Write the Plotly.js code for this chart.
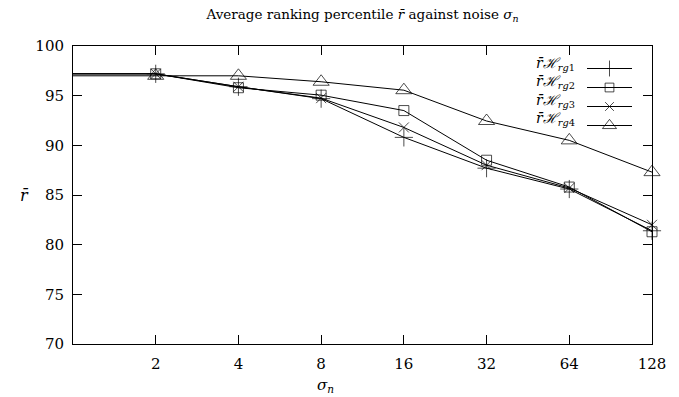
<!DOCTYPE html>
<html>
<head>
<meta charset="utf-8">
<script src="https://cdn.plot.ly/plotly-3.0.1.min.js"></script>
<style>html,body{margin:0;padding:0;background:#fff;}#chart{width:679px;height:397px;}</style>
</head>
<body>
<div id="chart"></div>
<script>
// Data
const sigma = [1, 2, 4, 8, 16, 32, 64, 128];
const tickVals = [2, 4, 8, 16, 32, 64, 128];
const tickText = ['2', '4', '8', '16', '32', '64', '128'];
const rg1 = [97.2, 97.2, 95.9, 94.7, 90.8, 87.7, 85.6, 81.4];
const rg2 = [97.2, 97.2, 95.8, 95.05, 93.5, 88.5, 85.8, 81.3];
const rg3 = [97.2, 97.2, 95.9, 94.75, 91.8, 88.0, 85.7, 82.0];
const rg4 = [97.0, 97.0, 97.0, 96.4, 95.55, 92.45, 90.5, 87.3];
const seriesSubs = ['1', '2', '3', '4'];
const yTicks = [70, 75, 80, 85, 90, 95, 100];

const font = '"DejaVu Serif", "Liberation Serif", serif';
const symbols = ['cross-thin-open', 'square-open', 'x-thin-open', 'triangle-up-open'];
const sizes = [13, 10, 10, 14];
const series = [rg1, rg2, rg3, rg4];

const traces = series.map((ys, i) => ({
  x: sigma, y: ys, type: 'scatter', mode: 'lines+markers',
  name: ' ',
  line: {color: '#000', width: 1},
  marker: {symbol: symbols[i], size: sigma.map(v => v === 1 ? 0 : sizes[i]), color: '#000', line: {color: '#000', width: 1}},
  cliponaxis: false
}));

const annotations = seriesSubs.map((s, i) => ({
  xref: 'paper', yref: 'paper', x: (577 - 73) / 579, y: 1 - (64 + 18.5 * i - 46) / 298,
  xanchor: 'right', yanchor: 'middle', showarrow: false,
  text: '<i>r̄ℋ</i><sub><i>rg</i>' + s + '</sub>',
  font: {family: font, size: 14, color: '#000'}
}));
annotations.push({xref: 'paper', yref: 'paper', x: -0.095, y: 0.5, showarrow: false,
  text: '<i>r̄</i>', font: {family: font, size: 16, color: '#000'}});
annotations.push({xref: 'paper', yref: 'paper', x: (325 - 73) / 579, y: -0.14, yanchor: 'middle', showarrow: false,
  text: '<i>σ</i><sub><i>n</i></sub>', font: {family: font, size: 15, color: '#000'}});

const layout = {
  width: 679, height: 397,
  margin: {l: 73, r: 27, t: 46, b: 53},
  paper_bgcolor: '#fff', plot_bgcolor: '#fff',
  font: {family: font, size: 14, color: '#000'},
  title: {text: 'Average ranking percentile <i>r̄</i> against noise <i>σ</i><sub><i>n</i></sub>',
    x: 0.5, xref: 'paper', y: 0.975, yref: 'container', font: {family: font, size: 13.5, color: '#000'}},
  xaxis: {type: 'log', range: [0, Math.log10(128)], tickvals: tickVals, ticktext: tickText,
    ticks: 'inside', ticklen: 9, tickcolor: '#000', showline: true, linecolor: '#000', linewidth: 1,
    mirror: 'ticks', showgrid: false, zeroline: false, ticklabelstandoff: 6,
    tickfont: {family: font, size: 15, color: '#000'}},
  yaxis: {range: [70, 100], tickvals: yTicks, ticks: 'inside', ticklen: 9, tickcolor: '#000',
    showline: true, linecolor: '#000', linewidth: 1, mirror: 'ticks', showgrid: false, zeroline: false,
    ticklabelstandoff: 5, tickfont: {family: font, size: 15, color: '#000'}},
  showlegend: true,
  legend: {x: (582 - 73) / 579, y: 1 - (54 - 46) / 298, xanchor: 'left', yanchor: 'top',
    bgcolor: 'rgba(0,0,0,0)', borderwidth: 0, itemwidth: 45, font: {family: font, size: 12}, tracegroupgap: 0},
  annotations: annotations
};

Plotly.newPlot('chart', traces, layout, {displayModeBar: false, staticPlot: true});
</script>
</body>
</html>
